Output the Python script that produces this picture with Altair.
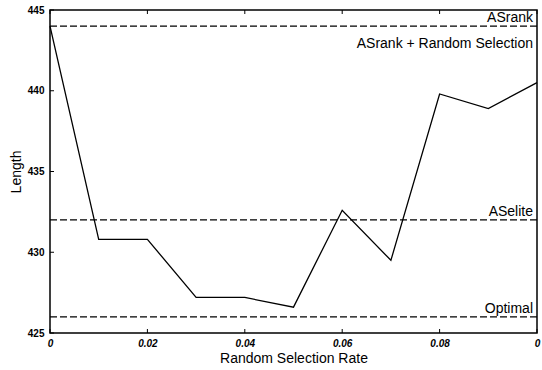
import altair as alt
import pandas as pd

# Tour length as a function of the random selection rate
rate = [0.0, 0.01, 0.02, 0.03, 0.04, 0.05, 0.06, 0.07, 0.08, 0.09, 0.10]
length = [444.0, 430.8, 430.8, 427.2, 427.2, 426.6, 432.6, 429.5, 439.8, 438.9, 440.5]

# Reference levels drawn as dashed horizontal lines
ref_names = ["ASrank", "ASelite", "Optimal"]
ref_values = [444.0, 432.0, 426.0]

# Axis ticks and their printed labels
x_ticks = [0.0, 0.02, 0.04, 0.06, 0.08, 0.10]
x_tick_labels = ["0", "0.02", "0.04", "0.06", "0.08", "0"]
y_ticks = [425, 430, 435, 440, 445]

series_label = "ASrank + Random Selection"
series_label_y = 442.9

W, H = 487, 323
FONT = "Liberation Sans"

line_df = pd.DataFrame({"rate": rate, "length": length})
ref_df = pd.DataFrame({"name": ref_names, "value": ref_values})
xt_df = pd.DataFrame({"t": x_ticks})
yt_df = pd.DataFrame({"t": y_ticks})

label_map = "{" + ",".join(f"'{t:.2f}':'{l}'" for t, l in zip(x_ticks, x_tick_labels)) + "}"

x_scale = alt.Scale(domain=[0, 0.1], nice=False, zero=False)
y_scale = alt.Scale(domain=[425, 445], nice=False, zero=False)

x_axis = alt.Axis(
    values=x_ticks,
    labelExpr=f"{label_map}[format(datum.value, '.2f')]",
    ticks=False, domain=False, grid=False,
    title="Random Selection Rate", titleFontSize=14, titleFont=FONT,
    titleFontWeight="normal", titleColor="black", titlePadding=3,
    labelFont=FONT, labelFontSize=10, labelFontWeight="bold",
    labelFontStyle="italic", labelColor="black", labelPadding=5,
    labelFlush=False,
)
y_axis = alt.Axis(
    values=y_ticks, format="d",
    ticks=False, domain=False, grid=False,
    title="Length", titleFontSize=14, titleFont=FONT,
    titleFontWeight="normal", titleColor="black", titlePadding=4,
    labelFont=FONT, labelFontSize=10, labelFontWeight="bold",
    labelColor="black", labelPadding=6,
)

series = alt.Chart(line_df).mark_line(color="black", strokeWidth=1.3).encode(
    x=alt.X("rate:Q", scale=x_scale, axis=x_axis),
    y=alt.Y("length:Q", scale=y_scale, axis=y_axis),
)

refs = alt.Chart(ref_df).mark_rule(
    color="black", strokeWidth=1.2, strokeDash=[7, 3]
).encode(y=alt.Y("value:Q", scale=y_scale))

ref_text = alt.Chart(ref_df).mark_text(
    align="right", baseline="bottom", dy=-1, font=FONT, fontSize=14, color="black"
).encode(
    x=alt.value(W - 4),
    y=alt.Y("value:Q", scale=y_scale),
    text="name:N",
)

series_text = alt.Chart(pd.DataFrame({"y": [series_label_y], "txt": [series_label]})).mark_text(
    align="right", baseline="middle", font=FONT, fontSize=14, color="black"
).encode(
    x=alt.value(W - 4),
    y=alt.Y("y:Q", scale=y_scale),
    text="txt:N",
)

# Inward tick marks on the bottom, top and left edges of the frame
x_ticks_bottom = alt.Chart(xt_df).mark_rule(color="black", strokeWidth=1).encode(
    x=alt.X("t:Q", scale=x_scale), y=alt.value(H), y2=alt.value(H - 4)
)
x_ticks_top = alt.Chart(xt_df).mark_rule(color="black", strokeWidth=1).encode(
    x=alt.X("t:Q", scale=x_scale), y=alt.value(0), y2=alt.value(4)
)
y_ticks_left = alt.Chart(yt_df).mark_rule(color="black", strokeWidth=1).encode(
    y=alt.Y("t:Q", scale=y_scale), x=alt.value(0), x2=alt.value(4)
)

chart = alt.layer(
    refs, series, ref_text, series_text, x_ticks_bottom, x_ticks_top, y_ticks_left
).properties(
    width=W, height=H,
    autosize=alt.AutoSizeParams(type="none"),
    padding={"left": 50, "top": 10, "right": 5, "bottom": 37},
    background="white",
).configure_view(
    stroke="black", strokeWidth=1.5
)

chart.save("out.html", embed_options={"renderer": "svg", "actions": False})
